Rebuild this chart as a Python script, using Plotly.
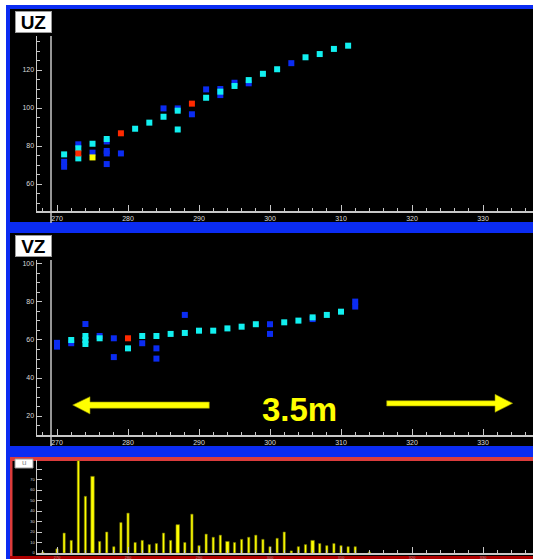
import plotly.graph_objects as go

W, H = 533, 559

# ---------------- data ----------------
# UZ panel
uz_blue_x = [271, 271, 273, 275, 277, 277, 277, 277, 279, 285, 287, 289, 291, 293, 293, 295, 297, 303]
uz_blue_y = [71.7, 69.1, 80.9, 76.5, 82.4, 77.4, 76.1, 70.5, 76.1, 99.8, 99.8, 96.7, 109.8, 110.0, 106.8, 113.3, 113.0, 123.6]
uz_cyan_x = [271, 273, 273, 275, 277, 281, 283, 285, 287, 287, 291, 293, 295, 297, 299, 301, 305, 307, 309, 311]
uz_cyan_y = [75.6, 78.8, 73.5, 81.2, 83.7, 89.1, 92.3, 95.4, 98.6, 88.7, 105.4, 108.6, 111.6, 114.7, 118.0, 120.4, 126.7, 128.4, 131.1, 132.8]
uz_red_x = [273, 279, 289]
uz_red_y = [76.1, 86.7, 102.3]
uz_yellow_x = [275]
uz_yellow_y = [74.0]

# VZ panel
vz_blue_x = [270, 270, 272, 274, 276, 278, 278, 282, 284, 284, 288, 300, 300, 306, 312, 312]
vz_blue_y = [58.5, 56.5, 58.3, 68.4, 62.1, 60.9, 51.0, 58.3, 55.6, 50.2, 73.2, 68.3, 63.2, 71.0, 80.2, 77.6]
vz_cyan_x = [272, 274, 274, 274, 276, 280, 282, 284, 286, 288, 290, 292, 294, 296, 298, 302, 304, 306, 308, 310]
vz_cyan_y = [60.0, 62.1, 60.0, 57.9, 60.9, 55.6, 62.1, 62.1, 63.2, 63.7, 64.9, 64.9, 66.1, 67.0, 68.3, 69.3, 70.2, 71.9, 73.2, 74.9]
vz_red_x = [280]
vz_red_y = [60.9]

# histogram panel
bar_x = [268, 270, 271, 272, 273, 274, 275, 276, 277, 278, 279, 280, 281, 282, 283, 284, 285, 286, 287,
         288, 289, 290, 291, 292, 293, 294, 295, 296, 297, 298, 299, 300, 301, 302, 303, 304, 305, 306,
         307, 308, 309, 310, 311, 312, 314]
bar_y = [1, 4, 19, 12, 88, 54, 73, 11, 20, 6, 29, 38, 10, 12, 8, 9, 19, 12, 27,
         10, 37, 7, 18, 15, 17, 11, 10, 13, 15, 17, 13, 6, 14, 20, 2, 6, 8, 12,
         9, 7, 9, 7, 6, 6, 1]
wide_bars = [275, 287, 294, 306]

uz_ticks = [60, 80, 100, 120]
vz_ticks = [20, 40, 60, 80, 100]
hist_ticks = [0, 10, 20, 30, 40, 50, 60, 70, 80]
hist_ticktext = ["0", "10", "20", "30", "40", "50", "60", "70", ""]

BLUE = "#0B2CF2"
CYAN = "#12F0F0"
RED = "#FF2A00"
YELLOW = "#FFFF00"
AXC = "#C8C8C8"

def px(x):
    return x / W

def py(y):
    return 1 - y / H

fig = go.Figure()

def pts(x, y, color, xa, ya):
    fig.add_trace(go.Scatter(x=x, y=y, mode="markers", xaxis=xa, yaxis=ya,
                             marker=dict(symbol="square", size=6, color=color, line=dict(width=0)),
                             showlegend=False, hoverinfo="skip"))

pts(uz_blue_x, uz_blue_y, BLUE, "x", "y")
pts(uz_cyan_x, uz_cyan_y, CYAN, "x", "y")
pts(uz_red_x, uz_red_y, RED, "x", "y")
pts(uz_yellow_x, uz_yellow_y, YELLOW, "x", "y")

pts(vz_blue_x, vz_blue_y, BLUE, "x2", "y2")
pts(vz_cyan_x, vz_cyan_y, CYAN, "x2", "y2")
pts(vz_red_x, vz_red_y, RED, "x2", "y2")

fig.add_trace(go.Bar(x=bar_x, y=bar_y, xaxis="x3", yaxis="y3",
                     width=[0.5 if v in wide_bars else 0.32 for v in bar_x],
                     marker=dict(color=YELLOW, line=dict(color="#6E6E00", width=0.6)),
                     showlegend=False, hoverinfo="skip"))

XR = [267.18, 337.04]
xdom = [px(37), 1]

def xax(anchor, fsize=7, fcolor="#DADADA", standoff=None):
    d = dict(domain=xdom, range=XR, anchor=anchor, showline=True, linecolor=AXC, linewidth=1.5,
             ticks="inside", ticklen=6, tickwidth=1, tickcolor=AXC, tick0=270, dtick=10,
             minor=dict(dtick=2, ticklen=3, ticks="inside", tickcolor=AXC, tickwidth=1),
             showgrid=False, zeroline=False, automargin=False, fixedrange=True,
             tickfont=dict(size=fsize, color=fcolor, family="Liberation Sans"))
    if standoff is not None:
        d["ticklabelstandoff"] = standoff
    return d

def yax(anchor, dom, rng, tickvals, ticktext=None, minor_dt=5, fsize=7):
    d = dict(domain=dom, range=rng, anchor=anchor, showline=True, linecolor=AXC, linewidth=1.5,
             ticks="inside", ticklen=5, tickwidth=1, tickcolor=AXC, tickvals=tickvals,
             showgrid=False, zeroline=False, automargin=False, fixedrange=True,
             tickfont=dict(size=fsize, color="#DADADA", family="Liberation Sans"))
    if minor_dt:
        d["minor"] = dict(dtick=minor_dt, ticklen=3, ticks="inside", tickcolor=AXC, tickwidth=1)
    if ticktext is not None:
        d["ticktext"] = ticktext
    return d

shapes = []
def rect(x0, y0, x1, y1, fill, line=None, lw=0):
    shapes.append(dict(type="rect", xref="paper", yref="paper", x0=px(x0), x1=px(x1),
                       y0=py(y1), y1=py(y0), fillcolor=fill,
                       line=dict(width=lw, color=line or fill), layer="below"))

def vline(x, y0, y1, color=AXC, width=1.5):
    shapes.append(dict(type="line", xref="paper", yref="paper", x0=px(x), x1=px(x),
                       y0=py(y1), y1=py(y0), line=dict(color=color, width=width), layer="below"))

def poly(points, fill):
    path = "M " + " L ".join(f"{px(a):.5f},{py(b):.5f}" for a, b in points) + " Z"
    shapes.append(dict(type="path", xref="paper", yref="paper", path=path, fillcolor=fill,
                       line=dict(width=0.6, color="#8A8A00"), layer="above"))

# frame
rect(6, 5, 533, 559, BLUE)
rect(10, 9, 533, 222, "#000000")
rect(10, 233, 533, 446, "#000000")
rect(10, 457, 533, 559, "#DC3C3C")
rect(12.5, 461, 533, 556, "#000000")
rect(10, 556, 533, 559, "#B00000")
rect(15, 459, 33, 468, "#FFFFFF", "#9A9A9A", 1)
# cursor lines
vline(51, 36, 223)
vline(51, 260, 446)
# arrows
poly([(72.7, 405), (90, 396.7), (90, 402), (209.3, 402), (209.3, 408.3), (90, 408.3), (90, 414)], YELLOW)
poly([(386.7, 400.7), (495, 400.7), (495, 394.3), (512.7, 403.3), (495, 412.3), (495, 406), (386.7, 406)], YELLOW)

def label_box(text, cx, cy):
    return dict(text=f"<b>{text}</b>", x=px(cx), y=py(cy), xref="paper", yref="paper",
                xanchor="center", yanchor="middle", showarrow=False,
                width=35, height=20, align="center", valign="middle",
                bgcolor="#FFFFFF", bordercolor="#9A9A9A", borderwidth=1, borderpad=0,
                font=dict(size=19, color="#000000", family="Liberation Sans"))

annotations = [
    label_box("UZ", 33.5, 22),
    label_box("VZ", 33.5, 246.5),
    dict(text="u", x=px(24), y=py(462), xref="paper", yref="paper", showarrow=False,
         xanchor="center", yanchor="middle",
         font=dict(size=8, color="#888888", family="Liberation Sans")),
    dict(text="<b>3.5m</b>", x=px(299.5), y=py(409), xref="paper", yref="paper", showarrow=False,
         xanchor="center", yanchor="middle",
         font=dict(size=33, color=YELLOW, family="Liberation Sans")),
]

fig.update_layout(
    width=W, height=H, autosize=False,
    margin=dict(l=0, r=0, t=0, b=0, pad=0, autoexpand=False),
    paper_bgcolor="#FFFFFF", plot_bgcolor="rgba(0,0,0,0)",
    showlegend=False, bargap=0,
    xaxis=xax("y"),
    yaxis=yax("x", [py(211), py(36)], [45.8, 137.9], uz_ticks),
    xaxis2=xax("y2"),
    yaxis2=yax("x2", [py(435), py(260)], [10.0, 102.1], vz_ticks),
    xaxis3=xax("y3", fsize=4, fcolor="#9A9A9A", standoff=0),
    yaxis3=yax("x3", [py(553), py(460)], [0, 88.6], hist_ticks, hist_ticktext, minor_dt=None, fsize=4),
    shapes=shapes,
    annotations=annotations,
)

fig.write_html("out.html", config={"displayModeBar": False, "staticPlot": True},
               post_script="document.body.style.margin='0';")
